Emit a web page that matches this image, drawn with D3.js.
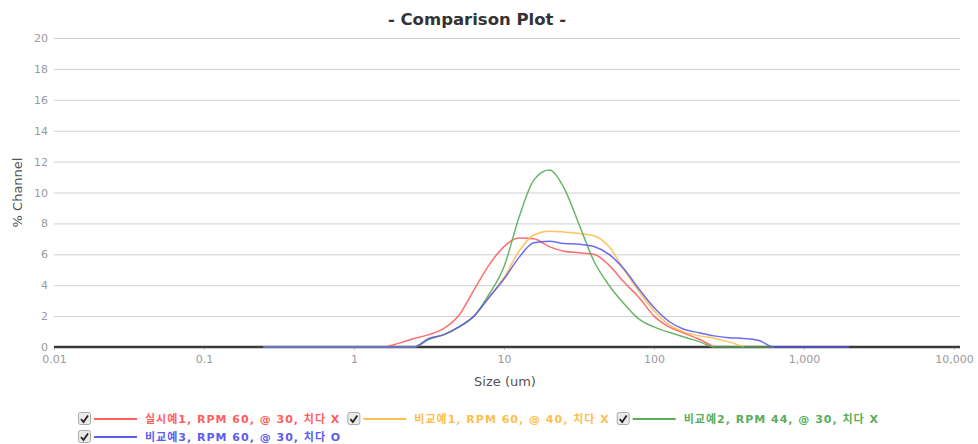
<!DOCTYPE html>
<html>
<head>
<meta charset="utf-8">
<script src="https://cdn.jsdelivr.net/npm/d3@7"></script>
<style>
  html, body { margin: 0; padding: 0; background: #fff; }
  svg { display: block; font-family: "DejaVu Sans", "Noto Sans CJK KR", sans-serif; }
</style>
</head>
<body>
<svg id="chart" width="978" height="444"></svg>
<script>
// Particle size channels (um), log spaced
const sizes = [0.25, 0.32, 0.40, 0.50, 0.63, 0.79, 1.0, 1.26, 1.58, 2.0,
  2.51, 3.16, 3.98, 5.01, 6.31, 7.94, 10, 12.6, 15.8, 20,
  25.1, 31.6, 39.8, 50.1, 63.1, 79.4, 100, 126, 158, 200,
  251, 316, 398, 501, 631, 794, 1000, 1259, 1585, 1995];

// % Channel per sample (null = channel not reported)
const example1 = [0, 0, 0, 0, 0, 0, 0, 0, 0,
  0.25, 0.55, 0.8, 1.2, 2.05, 3.7, 5.3, 6.5, 7.05, 7.0, 6.5, 6.2, 6.1, 6.0, 5.3, 4.2, 3.2, 2.0, 1.3, 0.9, 0.5, 0,
  null, null, null, null, null, null, null, null, null];
const compare1 = [0, 0, 0, 0, 0, 0, 0, 0, 0, 0, 0,
  0.55, 0.8, 1.3, 2.0, 3.2, 4.5, 6.2, 7.25, 7.5, 7.45, 7.35, 7.2, 6.5, 5.0, 3.6, 2.35, 1.45, 0.98, 0.72, 0.57, 0.33, 0,
  null, null, null, null, null, null, null];
const compare2 = [0, 0, 0, 0, 0, 0, 0, 0, 0, 0, 0,
  0.5, 0.8, 1.3, 2.0, 3.4, 5.2, 8.4, 10.8, 11.45, 10.3, 7.95, 5.55, 4.0, 2.8, 1.8, 1.3, 0.95, 0.65, 0.35, 0, 0, 0, 0, 0,
  null, null, null, null, null];
const compare3 = [0, 0, 0, 0, 0, 0, 0, 0, 0, 0, 0,
  0.55, 0.8, 1.3, 2.0, 3.2, 4.4, 5.8, 6.75, 6.85, 6.7, 6.65, 6.5, 6.0, 5.05, 3.75, 2.55, 1.65, 1.15, 0.92, 0.72, 0.6, 0.55, 0.42,
  0, 0, 0, 0, 0, 0];

const seriesNames = [
  "실시예1, RPM 60, @ 30, 치다 X",
  "비교예1, RPM 60, @ 40, 치다 X",
  "비교예2, RPM 44, @ 30, 치다 X",
  "비교예3, RPM 60, @ 30, 치다 O"
];
const seriesColors = ["#ff5e5e", "#ffbe4f", "#5aad5a", "#5c5cf0"];
const seriesValues = [example1, compare1, compare2, compare3];

const xTickValues = [0.01, 0.1, 1, 10, 100, 1000, 10000];
const yTickValues = [0, 2, 4, 6, 8, 10, 12, 14, 16, 18, 20];

(function draw() {
  const svg = d3.select("#chart");
  const plotLeft = 54, plotRight = 954, plotTop = 38, plotBottom = 347, gridEnd = 960;

  const x = d3.scaleLog().domain([0.01, 10000]).range([plotLeft, plotRight]);
  const y = d3.scaleLinear().domain([0, 20]).range([plotBottom, plotTop]);

  // Title
  svg.append("text")
    .attr("x", 477).attr("y", 25)
    .attr("text-anchor", "middle")
    .attr("font-size", 16.5).attr("font-weight", "bold")
    .attr("fill", "#333")
    .text("- Comparison Plot -");

  // Horizontal grid
  svg.append("g").selectAll("line")
    .data(yTickValues.filter(v => v > 0))
    .join("line")
    .attr("x1", plotLeft).attr("x2", gridEnd)
    .attr("y1", d => y(d) + 0.5).attr("y2", d => y(d) + 0.5)
    .attr("stroke", "#cfcfcf").attr("stroke-width", 1);

  // Y axis labels
  const yAxis = d3.axisLeft(y).tickValues(yTickValues).tickSize(0).tickPadding(6);
  const gy = svg.append("g").attr("transform", `translate(${plotLeft},0)`).call(yAxis);
  gy.select(".domain").remove();
  gy.selectAll("text").attr("fill", "#9a9a9a").attr("font-size", 11)
    .attr("font-family", "DejaVu Sans, sans-serif");

  // X axis labels
  const fmt = d3.format(",");
  const xAxis = d3.axisBottom(x).tickValues(xTickValues)
    .tickFormat(d => d < 1 ? String(d) : fmt(d)).tickSize(3).tickPadding(5);
  const gx = svg.append("g").attr("transform", `translate(0,${plotBottom})`).call(xAxis);
  gx.select(".domain").remove();
  gx.selectAll("line").attr("stroke", "#ccc");
  gx.selectAll("text").attr("fill", "#9a9a9a").attr("font-size", 11)
    .attr("font-family", "DejaVu Sans, sans-serif");

  // Zero baseline
  svg.append("line")
    .attr("x1", x(0.01)).attr("x2", gridEnd)
    .attr("y1", y(0)).attr("y2", y(0))
    .attr("stroke", "#3a3a3a").attr("stroke-width", 2.6);

  // Axis titles
  svg.append("text")
    .attr("transform", `translate(22,${(plotTop + plotBottom) / 2}) rotate(-90)`)
    .attr("text-anchor", "middle")
    .attr("font-size", 13).attr("fill", "#555")
    .text("% Channel");
  svg.append("text")
    .attr("x", 505).attr("y", 386)
    .attr("text-anchor", "middle")
    .attr("font-size", 13).attr("fill", "#555")
    .text("Size (um)");

  // Series lines
  const line = d3.line()
    .defined(d => d[1] !== null)
    .x(d => x(d[0]))
    .y(d => y(d[1]))
    .curve(d3.curveMonotoneX);

  seriesValues.forEach((vals, i) => {
    svg.append("path")
      .datum(sizes.map((s, j) => [s, vals[j]]))
      .attr("d", line)
      .attr("fill", "none")
      .attr("stroke", seriesColors[i])
      .attr("stroke-width", 1.5)
      .attr("stroke-opacity", 0.9);
  });

  // Legend (flowing rows)
  const legend = svg.append("g");
  let lx = 78, ly = 419;
  const maxX = 960;
  seriesNames.forEach((name, i) => {
    const g = legend.append("g");
    g.append("rect").attr("x", 0.5).attr("y", -6.5).attr("width", 12).attr("height", 12)
      .attr("rx", 2).attr("fill", "#eaeaea").attr("stroke", "#aaa");
    g.append("path").attr("d", "M3,0 L5.5,3 L10,-3.5")
      .attr("fill", "none").attr("stroke", "#222").attr("stroke-width", 1.8);
    g.append("line").attr("x1", 16).attr("x2", 59).attr("y1", 0).attr("y2", 0)
      .attr("stroke", seriesColors[i]).attr("stroke-width", 2);
    const t = g.append("text").attr("x", 67).attr("y", 4)
      .attr("font-size", 11).attr("font-weight", "bold")
      .attr("letter-spacing", 1)
      .attr("fill", seriesColors[i])
      .attr("font-family", "DejaVu Sans, Noto Sans CJK KR, sans-serif")
      .text(name);
    const w = 67 + t.node().getComputedTextLength() + 7;
    if (lx + w > maxX) { lx = 78; ly += 18; }
    g.attr("transform", `translate(${lx},${ly})`);
    lx += w;
  });
})();
</script>
</body>
</html>
